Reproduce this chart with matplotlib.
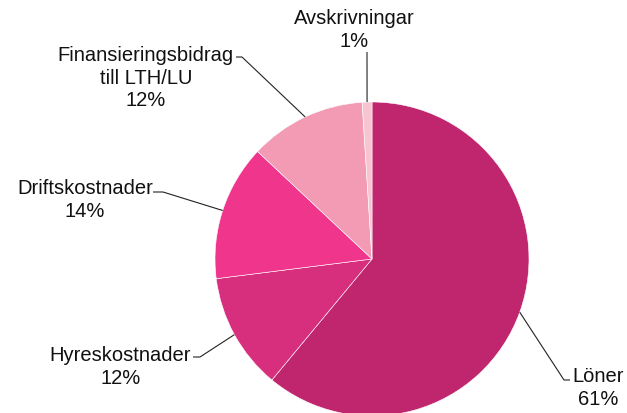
import numpy as np
import matplotlib.pyplot as plt

labels = ["Löner", "Hyreskostnader", "Driftskostnader",
          "Finansieringsbidrag\ntill LTH/LU", "Avskrivningar"]
shares = [61, 12, 14, 12, 1]
colors = ["#C0266E", "#D82E7E", "#F0368C", "#F39BB4", "#F7C4D2"]

W, H = 627, 414
cx, cy, r = 372, H - 260, 157

# label layout in pixel coords (y from top): elbow, tail end, text anchor, ha
layout = [
    ((564, 381), (570, 381), (572, 388), "left"),
    ((200, 358), (193, 358), (191, 367), "right"),
    ((163, 193), (153, 193), (153, 200), "right"),
    ((242, 58), (236, 58), (234, 78), "right"),
    ((367, 53), (367, 53), (354, 30), "center"),
]

plt.rcParams["font.family"] = ["Liberation Sans", "DejaVu Sans"]
fig = plt.figure(figsize=(W / 100, H / 100), dpi=100)
ax = fig.add_axes([0, 0, 1, 1])

wedges, _ = ax.pie(shares, colors=colors, startangle=90, counterclock=False,
                   center=(cx, cy), radius=r,
                   wedgeprops=dict(edgecolor="white", linewidth=0.4))
ax.set_xlim(0, W)
ax.set_ylim(0, H)
ax.set_aspect("equal")
ax.axis("off")

for w, lab, val, (elbow, tail, txt, ha) in zip(wedges, labels, shares, layout):
    mid = np.deg2rad((w.theta1 + w.theta2) / 2)
    x0 = cx + r * np.cos(mid)
    y0 = cy + r * np.sin(mid)
    ax.plot([x0, elbow[0], tail[0]], [y0, H - elbow[1], H - tail[1]],
            color="#222222", lw=0.8, solid_capstyle="butt")
    ax.text(txt[0], H - txt[1], f"{lab}\n{val}%", ha=ha, va="center",
            multialignment="center", fontsize=14.5, color="#111111",
            linespacing=1.24)

fig.savefig("out.png", dpi=100)
